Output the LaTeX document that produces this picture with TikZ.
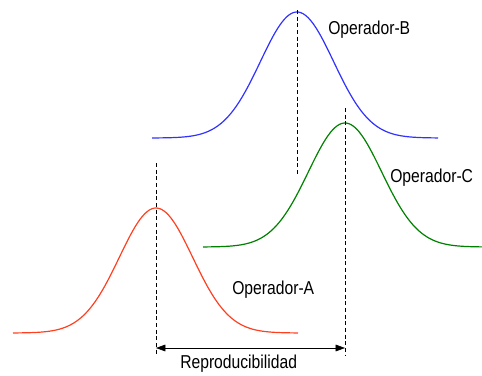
\documentclass[tikz,border=0pt]{standalone}
\usepackage{fontspec}
\setmainfont{Liberation Sans}[FakeStretch=0.84]
\usetikzlibrary{arrows.meta}
\tikzset{
  curve/.style={line width=.9pt},
  peakline/.style={line width=.5pt,dash pattern=on 3pt off 2pt},
  oplabel/.style={anchor=west,inner sep=0pt,font=\fontsize{14}{16}\selectfont},
}
\definecolor{opA}{RGB}{255,64,32}
\definecolor{opB}{RGB}{50,50,255}
\definecolor{opC}{RGB}{0,128,0}
\begin{document}
\begin{tikzpicture}[x=.75pt,y=-.75pt]
\useasboundingbox (0,0) rectangle (482,375);
% bell curves: centre, base line, height
\draw[curve,opA] plot[domain=13:298,samples=120,smooth] (\x,{333-125*exp(-0.5*((\x-156)/36.6)^2)});
\draw[curve,opB] plot[domain=152:438,samples=120,smooth] (\x,{138-126*exp(-0.5*((\x-297)/36.6)^2)});
\draw[curve,opC] plot[domain=203:483,samples=120,smooth] (\x,{247-124*exp(-0.5*((\x-345)/36.6)^2)});
% dashed centre lines
\coordinate (a1) at (156,163); \coordinate (a2) at (156,356);
\coordinate (b1) at (297,10);  \coordinate (b2) at (297,175);
\coordinate (c1) at (345,108); \coordinate (c2) at (345,356);
\draw[peakline] (a1)--(a2);
\draw[peakline] (b1)--(b2);
\draw[peakline] (c1)--(c2);
\coordinate (ra) at (156,348); \coordinate (rc) at (345,348);
\draw[line width=.45pt,{Triangle[length=7pt,width=5pt]}-{Triangle[length=7pt,width=5pt]}] (ra)--(rc);
\node[oplabel] (labB) at (328,30) {Operador-B};
\node[oplabel] (labC) at (390,178) {Operador-C};
\node[oplabel] (labA) at (232,290) {Operador-A};
\node[oplabel] (labR) at (180,364) {Reproducibilidad};
\end{tikzpicture}
\end{document}
